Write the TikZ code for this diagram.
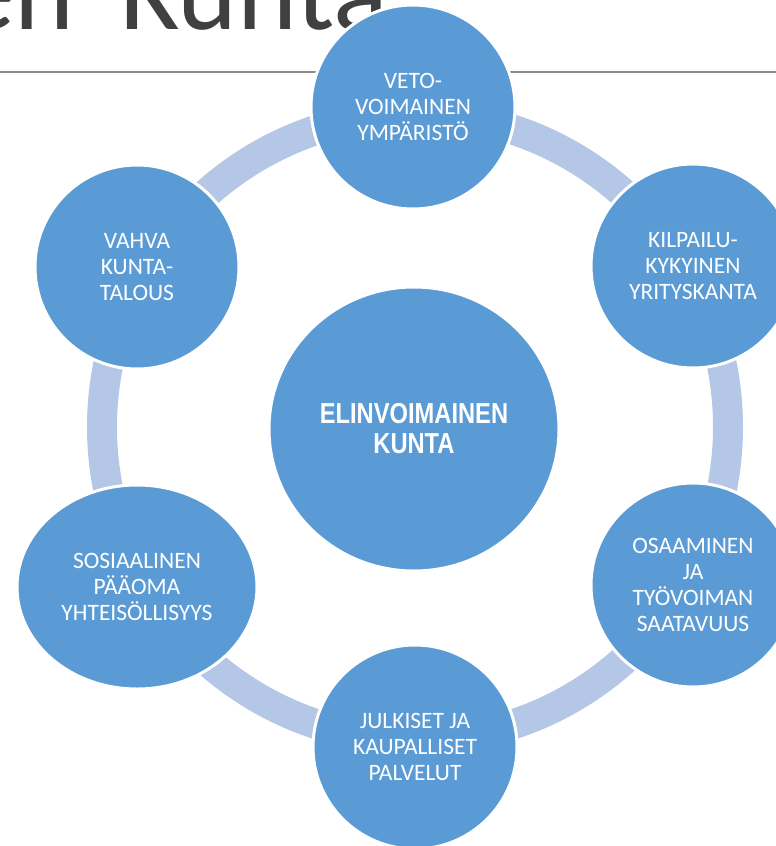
\documentclass[tikz,border=0pt]{standalone}
\usepackage{fontspec}
\setmainfont{Carlito}
\newfontfamily\narrowbold[FakeStretch=0.82]{Liberation Sans}
\usetikzlibrary{shapes.geometric}
\definecolor{nodeblue}{HTML}{5B9BD5}
\definecolor{ringblue}{HTML}{B4C7E7}
\definecolor{titlegray}{HTML}{404040}
\definecolor{rulegray}{HTML}{8C8C8C}
\tikzset{
  bubble/.style={circle, minimum size=204pt, inner sep=0pt, fill=nodeblue,
    draw=white, line width=3pt, text=white, align=center,
    font=\fontsize{23.5}{26.3}\selectfont},
  ovalbubble/.style={bubble, ellipse, minimum width=#1, minimum height=204pt},
  hub/.style={ellipse, minimum width=290pt, minimum height=284pt, inner sep=0pt,
    fill=nodeblue, draw=white, line width=3pt, text=white, align=center,
    font=\narrowbold\bfseries\fontsize{28.9}{30}\selectfont},
  ring/.style={draw=ringblue, line width=30pt},
  rule/.style={draw=rulegray, line width=1.5pt},
  titletext/.style={anchor=base west, inner sep=0pt, text=titlegray,
    font=\fontsize{114}{114}\selectfont}
}
\begin{document}
\begin{tikzpicture}[x=1pt,y=-1pt]
\useasboundingbox (0,0) rectangle (776,846);
\clip (0,0) rectangle (776,846);
% title (cut off)
\node[titletext] (title) at (-42,29.5) {en\hspace{0.4em}Kunta};
% rule
\coordinate (ruleL) at (0,72);
\coordinate (ruleR) at (776,72);
\draw[rule] (ruleL) -- (ruleR);
% ring
\coordinate (ringc) at (415,427);
\draw[ring] (ringc) circle[radius=313];
% outer bubbles
\node[bubble] (veto) at (413,107) {VETO-\\VOIMAINEN\\YMPÄRISTÖ};
\node[bubble] (kilp) at (693,266) {KILPAILU-\\KYKYINEN\\YRITYSKANTA};
\node[bubble] (osaa) at (693,585) {OSAAMINEN\\JA\\TYÖVOIMAN\\SAATAVUUS};
\node[bubble] (julk) at (415,747) {JULKISET JA\\KAUPALLISET\\PALVELUT};
\node[ovalbubble=240pt] (sosi) at (137,587) {SOSIAALINEN\\PÄÄOMA\\YHTEISÖLLISYYS};
\node[bubble] (vahva) at (137,267) {VAHVA\\KUNTA-\\TALOUS};
% hub
\node[hub] (hubnode) at (414,429) {ELINVOIMAINEN\\KUNTA};
\end{tikzpicture}
\end{document}
